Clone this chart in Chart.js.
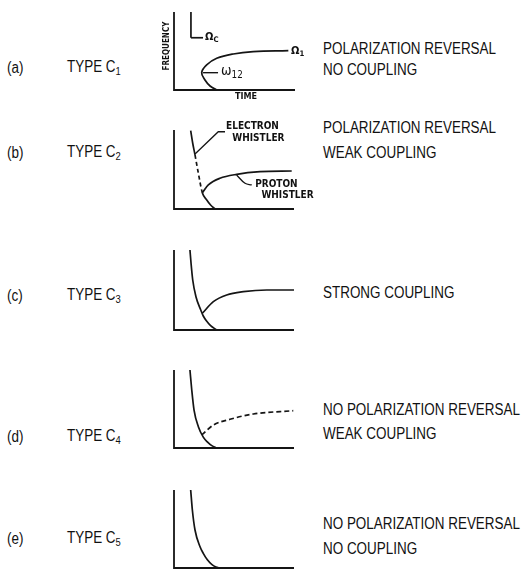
<!DOCTYPE html>
<html>
<head>
<meta charset="utf-8">
<script src="https://cdn.jsdelivr.net/npm/chart.js@4.4.1/dist/chart.umd.min.js"></script>
<style>
  html, body { margin: 0; padding: 0; background: #fff; }
  #wrap { position: relative; width: 529px; height: 571px; overflow: hidden; font-family: 'DejaVu Sans Condensed', 'Liberation Sans', sans-serif; color: #111; }
  #wrap canvas { position: absolute; }
  .t { position: absolute; white-space: nowrap; line-height: 1; transform: translateY(-50%); }
  .big { font-family: 'Liberation Sans', Arial, sans-serif; font-size: 16px; transform: translateY(-50%) scaleX(0.84); transform-origin: left center; }
  .small { font-size: 10px; font-weight: bold; }
  sub { font-size: 0.7em; vertical-align: -0.3em; }
</style>
</head>
<body>
<div id="wrap"></div>
<script>
// Schematic whistler types C1..C5 — each panel is a tiny scatter chart
// on a 0..100 frequency/time scale with no ticks.
const INK = '#151515';

// (a) type C1
const A_OMEGA_C = [[14, 100], [14, 67]];
const A_OMEGA_C_TICK = [[14, 67], [24, 67]];
const A_OMEGA_1 = [[35.3, 0], [29.8, 5.1], [25.6, 12.8], [22.9, 22.2], [27, 32.1], [35.3, 40.6], [49, 46.2], [65.5, 49.1], [94.5, 50.4]];
const A_W12_TICK = [[24, 22.2], [36.4, 22.2]];

// (b) type C2 — electron trace dashed between index 2 and 4
const B_ELECTRON = [[13.9, 99.1], [15.6, 83.2], [17.5, 68.4], [20.3, 45.2], [23.6, 20.6], [27.3, 11.4], [30.5, 5], [34.2, 0]];
const B_PROTON = [[23.6, 20.6], [28.6, 30.4], [38.3, 38.9], [52.3, 43.9], [71.7, 47.2], [98.1, 48.1]];
const B_E_LEADER = [[17.5, 69.6], [36.9, 97.8], [42.5, 97.8]];
const B_P_LEADER = [[52.2, 43], [59.2, 32.5], [64.8, 30.4]];

// (c) type C3
const C_ELECTRON = [[13.3, 100], [14.2, 83.4], [15.6, 62.5], [18.3, 41.6], [22.3, 25], [24.4, 17.5], [27.3, 11], [30.5, 5.5], [35.6, 0]];
const C_PROTON = [[23.6, 20.9], [32.8, 35.4], [43.9, 43.8], [57.8, 47.9], [77.3, 50], [100, 50]];

// (d) type C4
const D_ELECTRON = [[13.3, 100], [14.8, 74.4], [16.7, 48.7], [20.3, 27.3], [24.4, 14], [28, 7.5], [31.5, 3], [35.6, 0]];
const D_PROTON = [[23.1, 16.7], [32.8, 29.5], [46.7, 36.8], [66.1, 43.6], [99.4, 47.8]];

// (e) type C5
const E_ELECTRON = [[13.9, 100], [15.3, 74.4], [17.5, 48.7], [21.7, 27.3], [24.4, 18.8], [27.8, 10.5], [31.4, 4.7], [35, 1.3], [38.3, 0]];

const wrap = document.getElementById('wrap');
const PAD = 4;

function line(pts, extra) {
  return Object.assign({
    data: pts.map(([x, y]) => ({ x, y })),
    showLine: true, borderColor: INK, borderWidth: 1.7,
    pointRadius: 0, tension: 0.4, fill: false, clip: false,
  }, extra || {});
}
const smooth = { cubicInterpolationMode: 'monotone' };

// left + bottom axis lines along the chart area
const axesPlugin = {
  id: 'axesL',
  beforeDatasetsDraw(chart) {
    const { ctx, chartArea: a } = chart;
    ctx.save();
    ctx.strokeStyle = INK;
    ctx.lineWidth = 1.8;
    ctx.beginPath();
    ctx.moveTo(a.left, a.top);
    ctx.lineTo(a.left, a.bottom);
    ctx.lineTo(a.right, a.bottom);
    ctx.stroke();
    ctx.restore();
  },
};

function panel(box, datasets) {
  const [x0, x1, y0, y1] = box;
  const c = document.createElement('canvas');
  c.width = x1 - x0 + 2 * PAD;
  c.height = y1 - y0 + 2 * PAD;
  c.style.left = (x0 - PAD) + 'px';
  c.style.top = (y0 - PAD) + 'px';
  wrap.appendChild(c);
  new Chart(c, {
    type: 'scatter',
    data: { datasets },
    options: {
      responsive: false, animation: false, events: [],
      layout: { padding: PAD },
      plugins: { legend: { display: false }, tooltip: { enabled: false } },
      scales: {
        x: { type: 'linear', min: 0, max: 100, display: false },
        y: { type: 'linear', min: 0, max: 100, display: false },
      },
    },
    plugins: [axesPlugin],
  });
}

function label(html, x, y, cls, extra) {
  const d = document.createElement('div');
  d.className = 't ' + cls;
  d.style.left = x + 'px';
  d.style.top = y + 'px';
  if (extra) d.style.cssText += extra;
  d.innerHTML = html;
  wrap.appendChild(d);
}

panel([174, 295, 12, 90], [
  line(A_OMEGA_C, { tension: 0 }),
  line(A_OMEGA_C_TICK, { tension: 0 }),
  line(A_OMEGA_1),
  line(A_W12_TICK, { tension: 0, borderWidth: 1.4 }),
]);
panel([174, 294, 130, 209], [
  line(B_ELECTRON, Object.assign({ segment: { borderDash: (ctx) => (ctx.p0DataIndex >= 2 && ctx.p1DataIndex <= 4 ? [4, 3] : undefined) } }, smooth)),
  line(B_PROTON, smooth),
  line(B_E_LEADER, { tension: 0, borderWidth: 1.3 }),
  line(B_P_LEADER, { borderWidth: 1.3 }),
]);
panel([174, 294, 250, 330], [line(C_ELECTRON, smooth), line(C_PROTON, smooth)]);
panel([174, 294, 370, 448], [line(D_ELECTRON, smooth), line(D_PROTON, Object.assign({ borderDash: [5, 3] }, smooth))]);
panel([174, 294, 490, 568], [line(E_ELECTRON, smooth)]);

// panel letters and types
const LETTERS = ['(a)', '(b)', '(c)', '(d)', '(e)'];
const TYPES = ['1', '2', '3', '4', '5'];
const ROW_Y = [68, 153, 296, 437, 539];
LETTERS.forEach((l, i) => {
  label(l, 7, ROW_Y[i], 'big');
  label('TYPE C<sub>' + TYPES[i] + '</sub>', 67, ROW_Y[i], 'big');
});

// right-hand descriptions
label('POLARIZATION REVERSAL', 323, 49, 'big');
label('NO COUPLING', 323, 70, 'big');
label('POLARIZATION REVERSAL', 323, 128, 'big');
label('WEAK COUPLING', 323, 153, 'big');
label('STRONG COUPLING', 323, 293, 'big');
label('NO POLARIZATION REVERSAL', 323, 410, 'big');
label('WEAK COUPLING', 323, 434, 'big');
label('NO POLARIZATION REVERSAL', 323, 524, 'big');
label('NO COUPLING', 323, 549, 'big');

// in-panel annotations
label('Ω<sub>C</sub>', 205, 37, 'small', 'font-size:11px;');
label('Ω<sub>1</sub>', 291, 51, 'small', 'font-size:11px;');
label('ω<sub>12</sub>', 221, 71, 'small', 'font-size:14px;font-weight:normal;');
label('TIME', 235, 96, 'small', 'font-size:9px;');
label('FREQUENCY', 167, 46, 'small', 'font-size:8px;transform:translate(-50%,-50%) rotate(-90deg);');
label('ELECTRON<br>&nbsp;&nbsp;WHISTLER', 226, 132, 'small', 'line-height:12px;');
label('&nbsp;PROTON<br>&nbsp;&nbsp;&nbsp;WHISTLER', 252, 189, 'small', 'line-height:11px;');
</script>
</body>
</html>
